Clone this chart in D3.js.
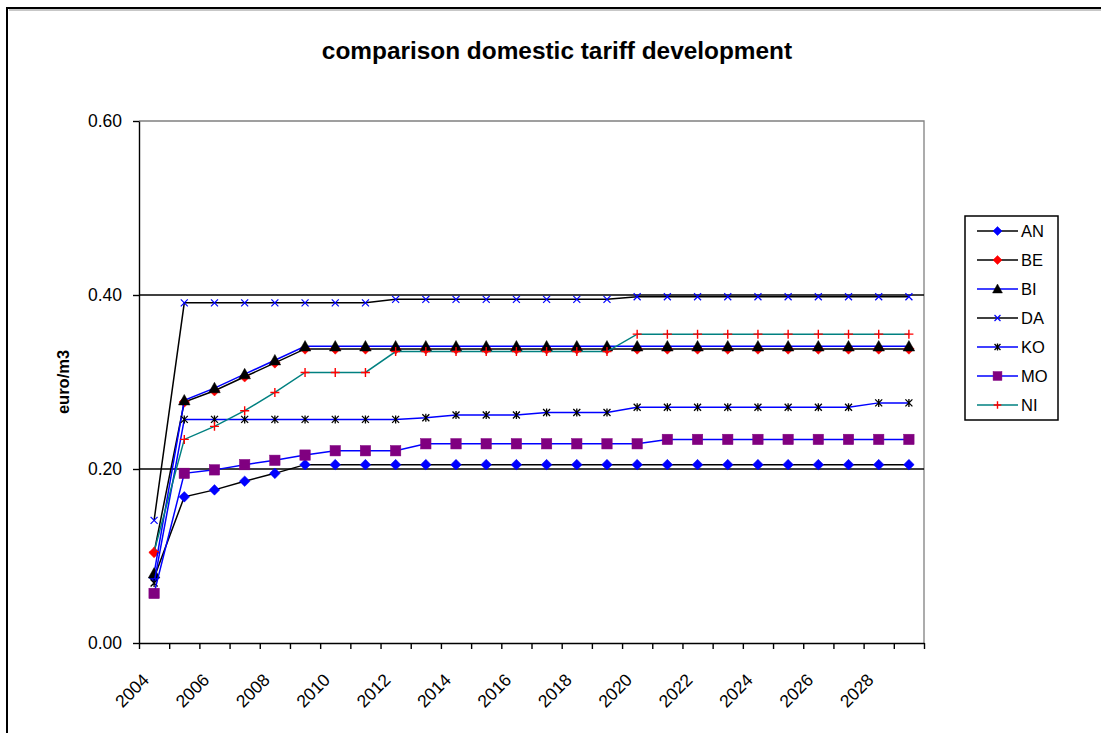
<!DOCTYPE html>
<html>
<head>
<meta charset="utf-8">
<script src="https://cdn.jsdelivr.net/npm/d3@7"></script>
<style>
  html, body { margin: 0; padding: 0; background: #fff; }
  svg { display: block; font-family: Arial, "Liberation Sans", sans-serif; }
</style>
</head>
<body>
<svg id="chart" width="1101" height="733"></svg>
<script>
// ---- data ----
const years = [2004, 2005, 2006, 2007, 2008, 2009, 2010, 2011, 2012, 2013, 2014, 2015, 2016,
               2017, 2018, 2019, 2020, 2021, 2022, 2023, 2024, 2025, 2026, 2027, 2028, 2029];
const yearLabels = ["2004", "2006", "2008", "2010", "2012", "2014", "2016", "2018", "2020",
                    "2022", "2024", "2026", "2028"];
const yTicks = [0.00, 0.20, 0.40, 0.60];
const seriesNames = ["AN", "BE", "BI", "DA", "KO", "MO", "NI"];

const AN = [0.075, 0.168, 0.176, 0.186, 0.195, 0.205, 0.205, 0.205, 0.205, 0.205, 0.205, 0.205, 0.205,
            0.205, 0.205, 0.205, 0.205, 0.205, 0.205, 0.205, 0.205, 0.205, 0.205, 0.205, 0.205, 0.205];
const BE = [0.104, 0.277, 0.290, 0.306, 0.322, 0.338, 0.338, 0.338, 0.338, 0.338, 0.338, 0.338, 0.338,
            0.338, 0.338, 0.338, 0.338, 0.338, 0.338, 0.338, 0.338, 0.338, 0.338, 0.338, 0.338, 0.338];
const BI = [0.080, 0.279, 0.293, 0.309, 0.325, 0.341, 0.341, 0.341, 0.341, 0.341, 0.341, 0.341, 0.341,
            0.341, 0.341, 0.341, 0.341, 0.341, 0.341, 0.341, 0.341, 0.341, 0.341, 0.341, 0.341, 0.341];
const DA = [0.141, 0.391, 0.391, 0.391, 0.391, 0.391, 0.391, 0.391, 0.395, 0.395, 0.395, 0.395, 0.395,
            0.395, 0.395, 0.395, 0.398, 0.398, 0.398, 0.398, 0.398, 0.398, 0.398, 0.398, 0.398, 0.398];
const KO = [0.069, 0.257, 0.257, 0.257, 0.257, 0.257, 0.257, 0.257, 0.257, 0.259, 0.262, 0.262, 0.262,
            0.265, 0.265, 0.265, 0.271, 0.271, 0.271, 0.271, 0.271, 0.271, 0.271, 0.271, 0.276, 0.276];
const MO = [0.057, 0.195, 0.199, 0.205, 0.210, 0.216, 0.221, 0.221, 0.221, 0.229, 0.229, 0.229, 0.229,
            0.229, 0.229, 0.229, 0.229, 0.234, 0.234, 0.234, 0.234, 0.234, 0.234, 0.234, 0.234, 0.234];
const NI = [0.105, 0.234, 0.249, 0.267, 0.288, 0.311, 0.311, 0.311, 0.335, 0.335, 0.335, 0.335, 0.335,
            0.335, 0.335, 0.335, 0.355, 0.355, 0.355, 0.355, 0.355, 0.355, 0.355, 0.355, 0.355, 0.355];

const seriesValues = [AN, BE, BI, DA, KO, MO, NI];

// ---- styles ----
const styles = {
  AN: { line: "#000000", marker: "diamond",  mcolor: "#0000FF" },
  BE: { line: "#000000", marker: "diamond",  mcolor: "#FF0000" },
  BI: { line: "#0000FF", marker: "triangle", mcolor: "#000000" },
  DA: { line: "#000000", marker: "x",        mcolor: "#0000FF" },
  KO: { line: "#0000FF", marker: "asterisk", mcolor: "#000000" },
  MO: { line: "#0000FF", marker: "square",   mcolor: "#800080" },
  NI: { line: "#008080", marker: "plus",     mcolor: "#FF0000" }
};

const svg = d3.select("#chart");
const L = 139, R = 924, T = 121, B = 643;

// outer chart frame
svg.append("rect").attr("x", 7).attr("y", 8).attr("width", 1200).attr("height", 800)
  .attr("fill", "#fff").attr("stroke", "#000").attr("stroke-width", 2);
svg.append("line").attr("x1", 9).attr("x2", 1101).attr("y1", 10).attr("y2", 10)
  .attr("stroke", "#909090").attr("stroke-width", 1);

const x = d3.scaleBand().domain(years).range([L, R]).paddingInner(0).paddingOuter(0);
const xi = d3.scaleLinear().domain([0, years.length]).range([L, R]);
const y = d3.scaleLinear().domain([0, 0.6]).range([B, T]);
const cx = d => x(d) + x.bandwidth() / 2;

// plot area border (top/right gray)
svg.append("path")
  .attr("d", `M${L},${y(0.6)}H${R}V${B}`)
  .attr("fill", "none").attr("stroke", "#808080").attr("stroke-width", 1.3);

// gridlines
svg.append("g").selectAll("line").data([0.2, 0.4]).join("line")
  .attr("x1", L).attr("x2", R)
  .attr("y1", d => y(d)).attr("y2", d => y(d))
  .attr("stroke", "#000").attr("stroke-width", 1.4);

// y axis
const yAxis = svg.append("g").attr("transform", `translate(${L},0)`)
  .call(d3.axisLeft(y).tickValues(yTicks).tickFormat(d3.format(".2f")).tickSize(6).tickSizeOuter(0).tickPadding(11));
yAxis.select(".domain").attr("stroke", "#000").attr("stroke-width", 1.4);
yAxis.selectAll(".tick line").attr("stroke", "#000").attr("stroke-width", 1.4);
yAxis.selectAll(".tick text").attr("font-size", 17.5).attr("fill", "#000")
  .attr("font-family", "Arial, 'Liberation Sans', sans-serif");

// x axis (tick marks at category boundaries)
const xAxis = svg.append("g").attr("transform", `translate(0,${B})`)
  .call(d3.axisBottom(xi).tickValues(d3.range(years.length + 1)).tickFormat("").tickSize(6).tickSizeOuter(0));
xAxis.select(".domain").attr("stroke", "#000").attr("stroke-width", 1.4);
xAxis.selectAll(".tick line").attr("stroke", "#000").attr("stroke-width", 1.4);

// x labels
svg.append("g").selectAll("text").data(yearLabels).join("text")
  .attr("transform", d => `translate(${cx(+d) - 4},${B + 38}) rotate(-45)`)
  .attr("text-anchor", "end")
  .attr("font-size", 17.5).attr("fill", "#000")
  .text(d => d);

// title
svg.append("text").attr("x", 557).attr("y", 59).attr("text-anchor", "middle")
  .attr("font-size", 24.4).attr("font-weight", "bold").attr("fill", "#000")
  .text("comparison domestic tariff development");

// y axis title
svg.append("text").attr("transform", `translate(69,${(T + B) / 2}) rotate(-90)`)
  .attr("text-anchor", "middle").attr("font-size", 16.5).attr("font-weight", "bold").attr("fill", "#000")
  .text("euro/m3");

// marker drawing
function drawMarker(g, type, color, px, py, s) {
  s = s || 1;
  if (type === "diamond") {
    const h = 5.3 * s;
    g.append("path").attr("d", `M${px},${py - h}L${px + h},${py}L${px},${py + h}L${px - h},${py}Z`)
      .attr("fill", color).attr("stroke", color).attr("stroke-width", 0.5);
  } else if (type === "triangle") {
    const h = 5.8 * s;
    g.append("path").attr("d", `M${px},${py - h}L${px + h},${py + h * 0.8}L${px - h},${py + h * 0.8}Z`)
      .attr("fill", color).attr("stroke", color).attr("stroke-width", 0.5);
  } else if (type === "square") {
    const h = 5.2 * s;
    g.append("rect").attr("x", px - h).attr("y", py - h).attr("width", 2 * h).attr("height", 2 * h)
      .attr("fill", color).attr("stroke", color).attr("stroke-width", 0.5);
  } else if (type === "x") {
    const h = 3.5 * s;
    g.append("path").attr("d", `M${px - h},${py - h}L${px + h},${py + h}M${px - h},${py + h}L${px + h},${py - h}`)
      .attr("stroke", color).attr("stroke-width", 1.2).attr("fill", "none");
  } else if (type === "asterisk") {
    const h = 3.5 * s;
    g.append("path").attr("d", `M${px - h},${py - h}L${px + h},${py + h}M${px - h},${py + h}L${px + h},${py - h}M${px},${py - h - 0.5}L${px},${py + h + 0.5}`)
      .attr("stroke", color).attr("stroke-width", 1.3).attr("fill", "none");
  } else if (type === "plus") {
    const h = 4.5 * s;
    g.append("path").attr("d", `M${px - h},${py}L${px + h},${py}M${px},${py - h}L${px},${py + h}`)
      .attr("stroke", color).attr("stroke-width", 1.4).attr("fill", "none");
  }
}

// series
const line = d3.line().x((d, i) => cx(years[i])).y(d => y(d));
seriesNames.forEach((name, k) => {
  const st = styles[name];
  const vals = seriesValues[k];
  const g = svg.append("g");
  g.append("path").attr("d", line(vals)).attr("fill", "none")
    .attr("stroke", st.line).attr("stroke-width", 1.5);
  vals.forEach((v, i) => drawMarker(g, st.marker, st.mcolor, cx(years[i]), y(v), 1));
});

// legend
const lg = svg.append("g");
lg.append("rect").attr("x", 965).attr("y", 216).attr("width", 93).attr("height", 204)
  .attr("fill", "#fff").attr("stroke", "#000").attr("stroke-width", 1.5);
seriesNames.forEach((name, k) => {
  const st = styles[name];
  const ly = 231 + k * 29;
  lg.append("line").attr("x1", 977).attr("x2", 1018).attr("y1", ly).attr("y2", ly)
    .attr("stroke", st.line).attr("stroke-width", 1.5);
  drawMarker(lg, st.marker, st.mcolor, 997.5, ly, 0.85);
  lg.append("text").attr("x", 1021).attr("y", ly).attr("dy", "0.36em")
    .attr("font-size", 16.5).attr("fill", "#000").text(name);
});
</script>
</body>
</html>
